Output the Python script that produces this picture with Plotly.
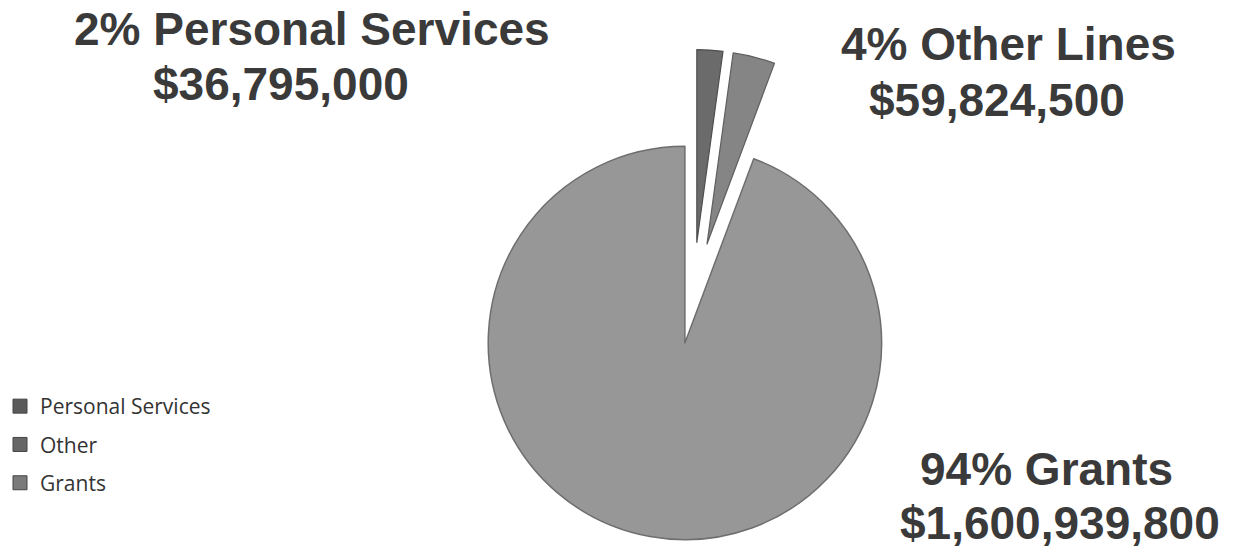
import plotly.graph_objects as go

# ---- data ----
categories = ["Personal Services", "Other", "Grants"]
amounts = [36795000, 59824500, 1600939800]
label_pcts = ["2%", "4%", "94%"]
label_names = ["Personal Services", "Other Lines", "Grants"]
slice_colors = ["#6b6b6b", "#858585", "#979797"]
legend_colors = ["#5a5a5a", "#666666", "#7a7a7a"]

W, H = 1237, 552
TRANSPARENT = "rgba(0,0,0,0)"


def px_domain(x0, x1, y0, y1):
    # pixel box (top-left origin) -> paper domain
    return dict(x=[x0 / W, x1 / W], y=[(H - y1) / H, (H - y0) / H])


fig = go.Figure()

# Main Grants slice (small slices hidden in this layer)
fig.add_trace(go.Pie(
    labels=categories,
    values=amounts,
    sort=False,
    direction="clockwise",
    rotation=0,
    textinfo="none",
    hoverinfo="label+value+percent",
    showlegend=False,
    marker=dict(
        colors=[TRANSPARENT, TRANSPARENT, slice_colors[2]],
        line=dict(color=["rgba(0,0,0,0)", "rgba(0,0,0,0)", "#6e6e6e"],
                  width=[0, 0, 1.5]),
    ),
    domain=px_domain(487, 881, 146, 540),
))

# Exploded small slices
fig.add_trace(go.Pie(
    labels=categories,
    values=amounts,
    sort=False,
    direction="clockwise",
    rotation=0,
    textinfo="none",
    hoverinfo="label+value+percent",
    showlegend=False,
    pull=[0.3, 0.3, 0],
    marker=dict(
        colors=[slice_colors[0], slice_colors[1], TRANSPARENT],
        line=dict(color=["#4f4f4f", "#5f5f5f", "rgba(0,0,0,0)"],
                  width=[1.2, 1.2, 0]),
    ),
    domain=px_domain(441, 943, 49, 551),
))

# Legend entries
for i, (cat, col) in enumerate(zip(categories, legend_colors)):
    fig.add_trace(go.Scatter(
        x=[None], y=[None], mode="markers", name=cat,
        legendgroup=cat,
        marker=dict(symbol="square", size=14, color=col,
                    line=dict(color="#444444", width=1)),
    ))

# Data labels
def money(v):
    return "${:,.0f}".format(v)

label_specs = [
    # (pct/name line pos, value line pos)
    ((311, 29), (279, 84)),
    ((1008, 44), (997, 100)),
    ((1046, 469), (1060, 523)),
]
for i, ((x1, y1), (x2, y2)) in enumerate(label_specs):
    fig.add_annotation(
        x=x1 / W, y=(H - y1) / H, xref="paper", yref="paper",
        text="<b>%s %s</b>" % (label_pcts[i], label_names[i]),
        showarrow=False, xanchor="center", yanchor="middle",
        font=dict(family="Liberation Sans, Arial, sans-serif", size=46, color="#3a3a3a"),
    )
    fig.add_annotation(
        x=x2 / W, y=(H - y2) / H, xref="paper", yref="paper",
        text="<b>%s</b>" % money(amounts[i]),
        showarrow=False, xanchor="center", yanchor="middle",
        font=dict(family="Liberation Sans, Arial, sans-serif", size=46, color="#3a3a3a"),
    )

fig.update_layout(
    width=W, height=H,
    margin=dict(l=0, r=0, t=0, b=0),
    paper_bgcolor="white",
    plot_bgcolor="white",
    xaxis=dict(visible=False),
    yaxis=dict(visible=False),
    legend=dict(
        x=-0.002, y=(H - 386) / H, xanchor="left", yanchor="top",
        traceorder="grouped", tracegroupgap=8,
        font=dict(family="Open Sans, sans-serif", size=21, color="#333333"),
        bgcolor="rgba(0,0,0,0)",
    ),
)

fig.write_html("out.html",
               config={"displayModeBar": False},
               post_script="document.body.style.margin='0';document.body.style.overflow='hidden';")
